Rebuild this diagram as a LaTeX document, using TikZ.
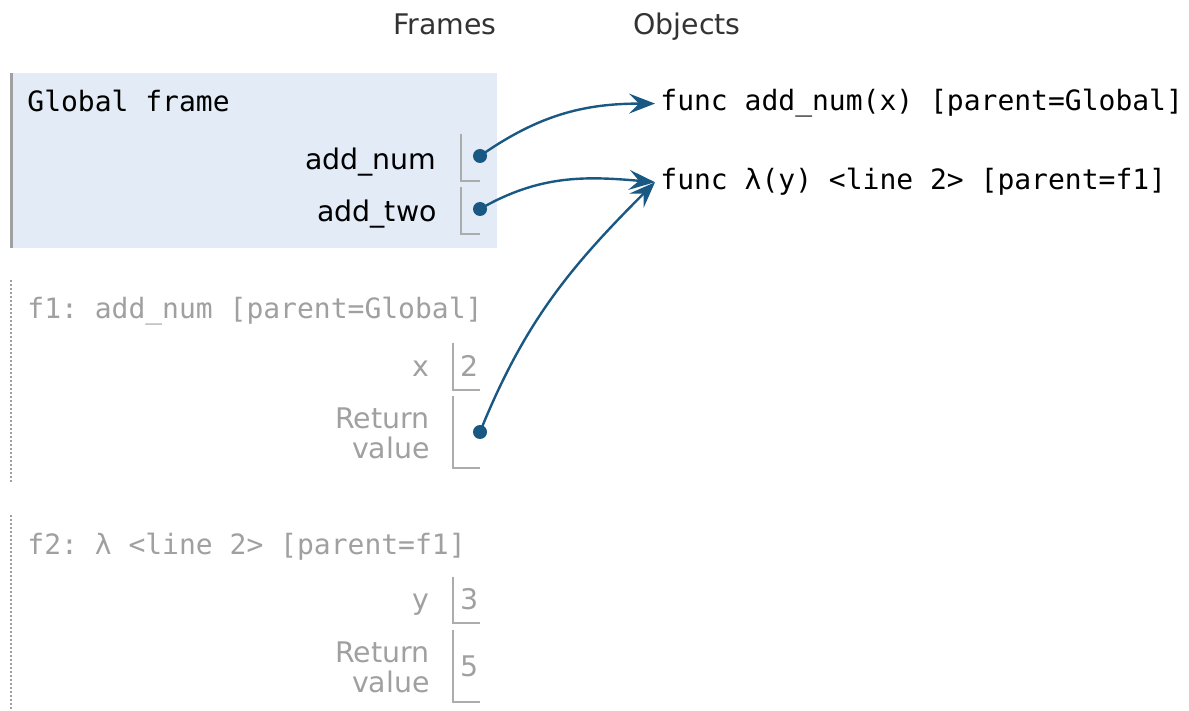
\documentclass[tikz,border=0pt]{standalone}
\usepackage{fontspec}
\setmainfont{DejaVu Sans}
\setmonofont{DejaVu Sans Mono}
\usetikzlibrary{arrows.meta}

\definecolor{ptrblue}{RGB}{25,88,131}
\definecolor{framebg}{RGB}{226,235,246}
\definecolor{lightgrey}{RGB}{160,160,160}
\definecolor{slotgrey}{RGB}{172,172,172}
\definecolor{headgrey}{RGB}{51,51,51}

\begin{document}
\begin{tikzpicture}[x=0.5pt,y=0.5pt,
    txt/.style={inner sep=0pt,font=\fontsize{14.2}{15}\selectfont},
    code/.style={inner sep=0pt,font=\fontsize{14}{15}\selectfont\ttfamily},
    faded/.style={text=lightgrey},
    slot/.style={draw=slotgrey,line width=1pt},
    dot/.style={circle,fill=ptrblue,inner sep=0pt,minimum size=7pt},
    ptr/.style={draw=ptrblue,line width=1.2pt,-{Stealth[length=13pt,width=10pt,inset=5pt]}}]

            % \draw [help lines] (0,0) grid (1189,-711);
            \useasboundingbox (0,0) rectangle (1189,-711);

            % frame backgrounds and borders
            \fill[framebg] (10,-73) rectangle (497,-248);
            \draw[lightgrey,line width=1.5pt] (11,-73) -- (11,-248);
            \draw[lightgrey,line width=1pt,dash pattern=on 1pt off 1pt] (11,-280) -- (11,-482);
            \draw[lightgrey,line width=1pt,dash pattern=on 1pt off 1pt] (11,-515) -- (11,-711);

            \path   (393,-35) node (frames) [txt,text=headgrey,anchor=base west] {Frames}
                    (633,-35) node (objects) [txt,text=headgrey,anchor=base west] {Objects}

                    (27,-112) node (global) [code,anchor=base west] {Global frame}
                    (437,-170) node (addnum) [txt,anchor=base east] {add\_num}
                    (437,-222) node (addtwo) [txt,anchor=base east] {add\_two}

                    (27,-319) node (fone) [code,faded,anchor=base west] {f1: add\_num [parent=Global]}
                    (430,-377) node (xname) [txt,faded,anchor=base east] {x}
                    (460,-377) node (xval) [txt,faded,anchor=base west] {2}
                    (430,-433) node (fonertn) [txt,faded,anchor=east,align=right] {Return\\value}

                    (27,-554) node (ftwo) [code,faded,anchor=base west] {f2: λ <line 2> [parent=f1]}
                    (430,-609) node (yname) [txt,faded,anchor=base east] {y}
                    (460,-609) node (yval) [txt,faded,anchor=base west] {3}
                    (430,-667) node (ftwortn) [txt,faded,anchor=east,align=right] {Return\\value}
                    (460,-666) node (rtnval) [txt,faded,anchor=west] {5}

                    (655,-111) node (objone) [code,inner xsep=2.5pt,anchor=base west] {func add\_num(x) [parent=Global]}
                    (655,-190) node (objtwo) [code,inner xsep=2.5pt,anchor=base west] {func λ(y) <line 2> [parent=f1]};

            % slots
            \draw[slot] (461,-134) -- (461,-181) -- (480,-181);
            \draw[slot] (461,-187) -- (461,-234) -- (480,-234);
            \draw[slot] (453,-343) -- (453,-390) -- (480,-390);
            \draw[slot] (453,-396) -- (453,-468) -- (480,-468);
            \draw[slot] (453,-577) -- (453,-623) -- (480,-623);
            \draw[slot] (453,-630) -- (453,-702) -- (480,-702);

            \path   (480,-156) node (pone) [dot] {}
                    (480,-209) node (ptwo) [dot] {}
                    (480,-432) node (pthree) [dot] {};

            \draw[ptr] (pone.center) to[out=35,in=180] (objone.west);
            \draw[ptr] (ptwo.center) to[out=30,in=175] (objtwo.west);
            \draw[ptr] (pthree.center) to[out=68,in=225] (objtwo.west);
        \end{tikzpicture}
\end{document}
